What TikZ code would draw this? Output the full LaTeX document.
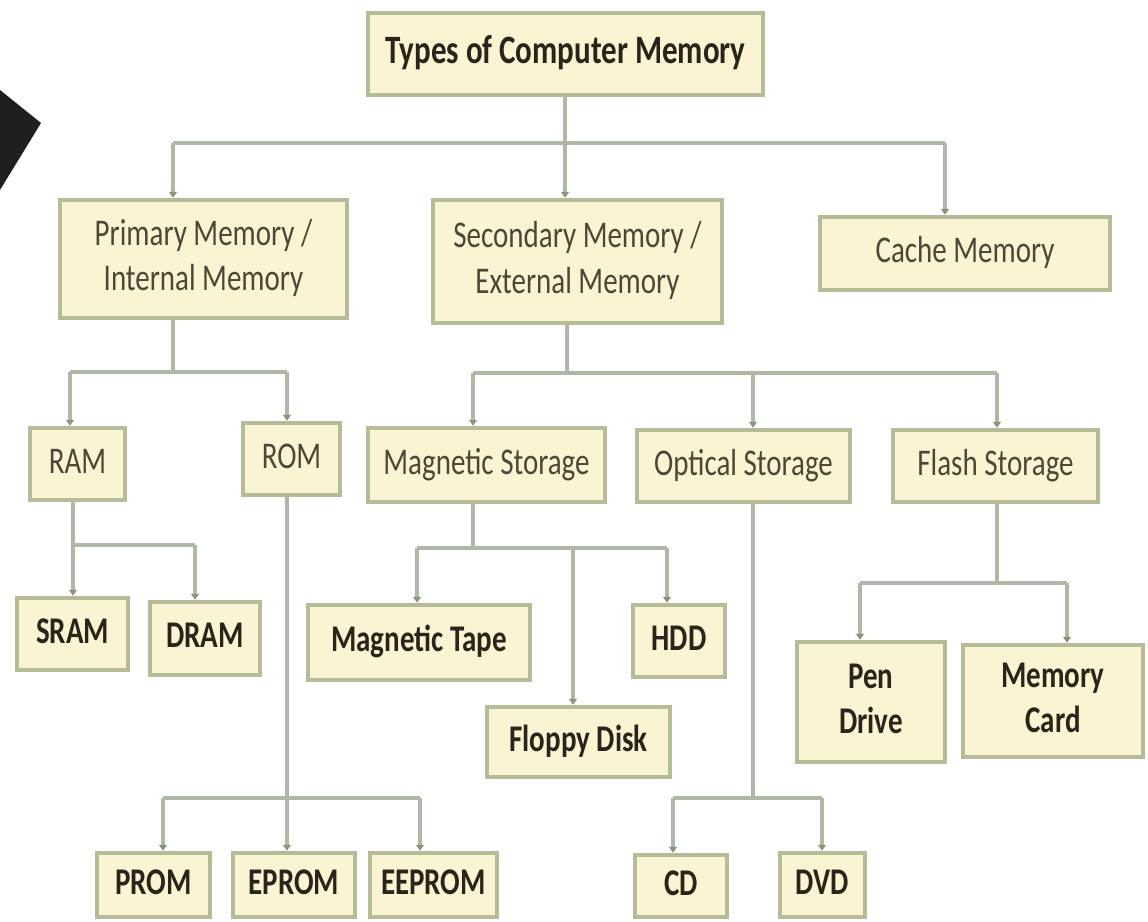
\documentclass[tikz,border=0pt]{standalone}
\usepackage{fontspec}
\setmainfont{Carlito}
\usetikzlibrary{arrows.meta}
\definecolor{boxfill}{HTML}{FBF4D3}
\definecolor{boxline}{HTML}{B6BC98}
\definecolor{linec}{HTML}{ADB9A5}
\definecolor{arrc}{HTML}{869878}
\definecolor{txtn}{HTML}{4E4738}
\definecolor{txtb}{HTML}{2A251C}
\newcommand\txt[1]{\scalebox{1}[1.3]{\begin{tabular}{@{}c@{}}#1\end{tabular}}}
\tikzset{
  box/.style={draw=boxline, fill=boxfill, line width=4.5pt, inner sep=0pt,
    font=\fontsize{29}{35}\selectfont, text=txtn},
  boldbox/.style={box, font=\fontsize{29}{35}\selectfont\bfseries, text=txtb},
  conn/.style={draw=linec, line width=3.5pt},
  arr/.style={conn, -{Triangle[width=8pt,length=6pt,color=arrc]}},
}
\begin{document}
\begin{tikzpicture}[x=1pt,y=-1pt]
\fill[white] (0,0) rectangle (1148,921);
\useasboundingbox (0,0) rectangle (1148,921);
\fill[black!88] (0,90) -- (41,123) -- (0,190) -- cycle;

% nodes
\node[boldbox, minimum width=395pt, minimum height=82pt, font=\fontsize{31}{37}\selectfont\bfseries] (title) at (565.5,54) {\txt{Types of Computer Memory}};
\node[box, minimum width=287pt, minimum height=118pt] (prim) at (203.5,259) {\txt{Primary Memory /\\Internal Memory}};
\node[box, minimum width=289pt, minimum height=123pt] (sec) at (577.5,261.5) {\txt{Secondary Memory /\\External Memory}};
\node[box, minimum width=290pt, minimum height=73pt] (cache) at (965,253.5) {\txt{Cache Memory}};

\node[box, minimum width=95pt, minimum height=72pt] (ram) at (77.5,464) {\txt{RAM}};
\node[box, minimum width=97pt, minimum height=72pt] (rom) at (291.5,459) {\txt{ROM}};
\node[box, minimum width=237pt, minimum height=74pt] (mag) at (486.5,465) {\txt{Magnetic Storage}};
\node[box, minimum width=213pt, minimum height=72pt] (opt) at (743.5,466) {\txt{Optical Storage}};
\node[box, minimum width=205pt, minimum height=72pt] (flash) at (995.5,466) {\txt{Flash Storage}};

\node[boldbox, minimum width=111pt, minimum height=72pt] (sram) at (72.5,634) {\txt{SRAM}};
\node[boldbox, minimum width=110pt, minimum height=73pt] (dram) at (205,638.5) {\txt{DRAM}};
\node[boldbox, minimum width=222pt, minimum height=75pt] (tape) at (419,642.5) {\txt{Magnetic Tape}};
\node[boldbox, minimum width=92pt, minimum height=72pt] (hdd) at (679,641) {\txt{HDD}};
\node[boldbox, minimum width=183pt, minimum height=70pt] (floppy) at (578.5,742) {\txt{Floppy Disk}};
\node[boldbox, minimum width=148pt, minimum height=120pt] (pen) at (871,702) {\txt{Pen\\Drive}};
\node[boldbox, minimum width=180pt, minimum height=112pt] (card) at (1053,701) {\txt{Memory\\Card}};

\node[boldbox, minimum width=113pt, minimum height=64pt] (prom) at (153.5,885) {\txt{PROM}};
\node[boldbox, minimum width=122pt, minimum height=64pt] (eprom) at (294,885) {\txt{EPROM}};
\node[boldbox, minimum width=127pt, minimum height=64pt] (eeprom) at (433.5,885) {\txt{EEPROM}};
\node[boldbox, minimum width=92pt, minimum height=62pt] (cd) at (681,886) {\txt{CD}};
\node[boldbox, minimum width=85pt, minimum height=64pt] (dvd) at (822.5,885) {\txt{DVD}};

% bus coordinates
\coordinate (T) at (565,143); \coordinate (TL) at (173,143); \coordinate (TR) at (945,143);
\coordinate (P) at (173,372); \coordinate (PL) at (70,372); \coordinate (PR) at (287,372);
\coordinate (R) at (73,545); \coordinate (RR) at (195,545);
\coordinate (O) at (287,798); \coordinate (OL) at (163,798); \coordinate (OR) at (420,798);
\coordinate (S) at (567,373); \coordinate (SL) at (473,373); \coordinate (SM) at (753,373); \coordinate (SR) at (997,373);
\coordinate (M) at (473,548); \coordinate (ML) at (417,548); \coordinate (MM) at (573,548); \coordinate (MR) at (667,548);
\coordinate (Op) at (753,798); \coordinate (OpL) at (673,798); \coordinate (OpR) at (822,798);
\coordinate (F) at (997,583); \coordinate (FL) at (860,583); \coordinate (FR) at (1067,583);

% title
\draw[conn] (title.south -| T) -- (T);
\draw[conn] (TL) -- (TR);
\draw[arr] (TL) -- (TL |- prim.north);
\draw[arr] (T) -- (T |- sec.north);
\draw[arr] (TR) -- (TR |- cache.north);
% primary
\draw[conn] (prim.south -| P) -- (P);
\draw[conn] (PL) -- (PR);
\draw[arr] (PL) -- (PL |- ram.north);
\draw[arr] (PR) -- (PR |- rom.north);
% ram
\draw[conn] (ram.south -| R) -- (R);
\draw[conn] (R) -- (RR);
\draw[arr] (R) -- (R |- sram.north);
\draw[arr] (RR) -- (RR |- dram.north);
% rom
\draw[conn] (rom.south -| O) -- (O);
\draw[conn] (OL) -- (OR);
\draw[arr] (OL) -- (OL |- prom.north);
\draw[arr] (O) -- (O |- eprom.north);
\draw[arr] (OR) -- (OR |- eeprom.north);
% secondary
\draw[conn] (sec.south -| S) -- (S);
\draw[conn] (SL) -- (SR);
\draw[arr] (SL) -- (SL |- mag.north);
\draw[arr] (SM) -- (SM |- opt.north);
\draw[arr] (SR) -- (SR |- flash.north);
% magnetic
\draw[conn] (mag.south -| M) -- (M);
\draw[conn] (ML) -- (MR);
\draw[arr] (ML) -- (ML |- tape.north);
\draw[arr] (MM) -- (MM |- floppy.north);
\draw[arr] (MR) -- (MR |- hdd.north);
% optical
\draw[conn] (opt.south -| Op) -- (Op);
\draw[conn] (OpL) -- (OpR);
\draw[arr] (OpL) -- (OpL |- cd.north);
\draw[arr] (OpR) -- (OpR |- dvd.north);
% flash
\draw[conn] (flash.south -| F) -- (F);
\draw[conn] (FL) -- (FR);
\draw[arr] (FL) -- (FL |- pen.north);
\draw[arr] (FR) -- (FR |- card.north);
\end{tikzpicture}
\end{document}
